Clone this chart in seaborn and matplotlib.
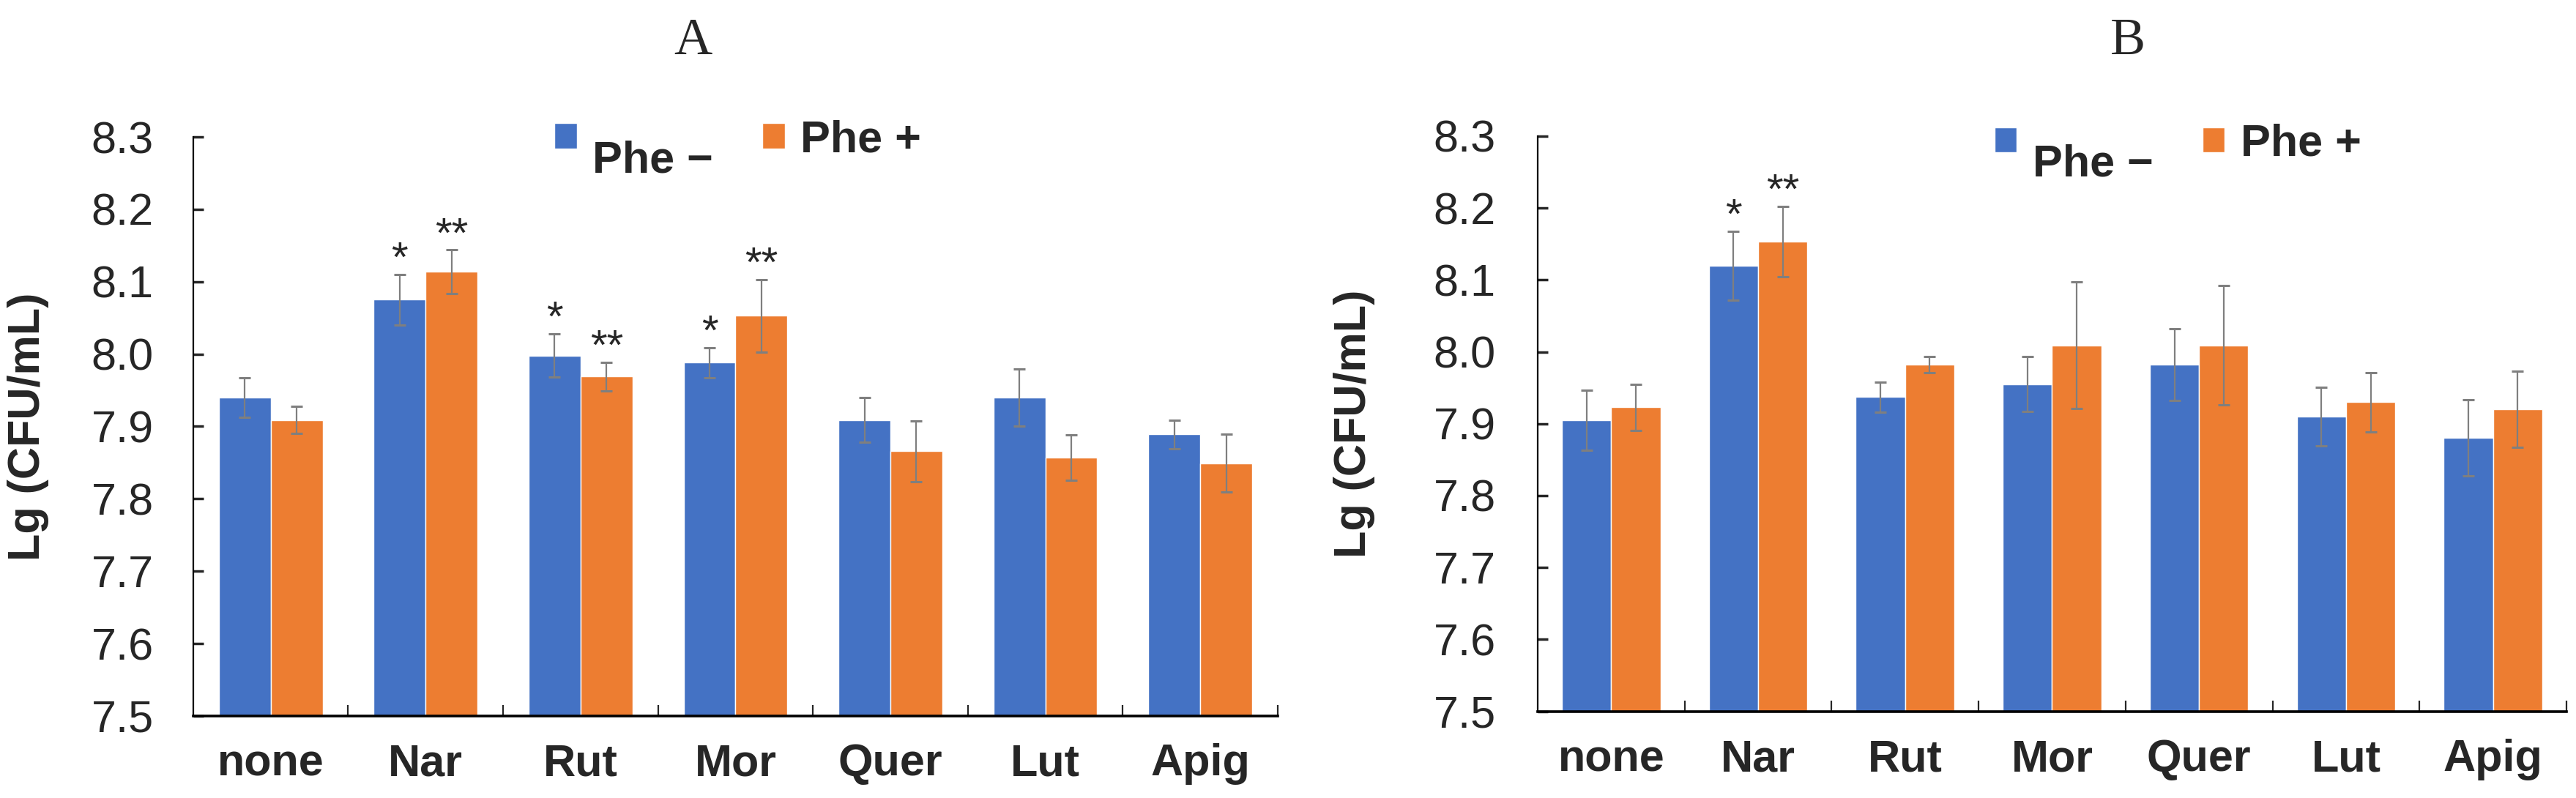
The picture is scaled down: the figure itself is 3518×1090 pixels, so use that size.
"""
Bacterial counts (Lg CFU/mL) with and without Phe, two panels A and B
"""
import pandas as pd
import seaborn as sns
import matplotlib.pyplot as plt
from matplotlib.ticker import FixedLocator, FormatStrFormatter

sns.set_style('white')
plt.rcParams['font.family'] = ['Liberation Sans', 'DejaVu Sans']

# data
compounds = ["none", "Nar", "Rut", "Mor", "Quer", "Lut", "Apig"]
groups = ["Phe \u2212", "Phe +"]

a_minus = [7.940, 8.075, 7.998, 7.988, 7.909, 7.940, 7.889]
a_minus_sd = [0.027, 0.035, 0.030, 0.021, 0.031, 0.039, 0.020]
a_plus = [7.909, 8.114, 7.969, 8.053, 7.866, 7.857, 7.849]
a_plus_sd = [0.019, 0.030, 0.020, 0.050, 0.042, 0.031, 0.040]
a_minus_sig = ["", "*", "*", "*", "", "", ""]
a_plus_sig = ["", "**", "**", "**", "", "", ""]

b_minus = [7.905, 8.120, 7.937, 7.955, 7.982, 7.910, 7.880]
b_minus_sd = [0.042, 0.048, 0.021, 0.038, 0.050, 0.041, 0.053]
b_plus = [7.923, 8.153, 7.982, 8.009, 8.009, 7.930, 7.920]
b_plus_sd = [0.032, 0.049, 0.011, 0.088, 0.083, 0.041, 0.053]
b_minus_sig = ["", "*", "", "", "", "", ""]
b_plus_sig = ["", "**", "", "", "", "", ""]

y_ticks = [7.5, 7.6, 7.7, 7.8, 7.9, 8.0, 8.1, 8.2, 8.3]

BLUE = '#4472C4'
ORANGE = '#ED7D31'
GREY = '#7F7F7F'
FS = 44


def draw_panel(ax, minus, minus_sd, plus, plus_sd, sig_minus, sig_plus,
               legend_anchor, label_x, ypad):
    df = pd.DataFrame({
        'compound': compounds * 2,
        'group': [groups[0]] * len(compounds) + [groups[1]] * len(compounds),
        'value': minus + plus,
    })
    sns.barplot(data=df, x='compound', y='value', hue='group', order=compounds,
                hue_order=groups, palette=[BLUE, ORANGE], width=0.67,
                saturation=1, errorbar=None, ax=ax)

    # error bars and stars on top of each bar
    for cont, sds, sigs in zip(ax.containers, [minus_sd, plus_sd], [sig_minus, sig_plus]):
        xs = [p.get_x() + p.get_width() / 2 for p in cont.patches]
        hs = [p.get_height() for p in cont.patches]
        ax.errorbar(xs, hs, yerr=sds, fmt='none', ecolor=GREY, elinewidth=1.6,
                    capsize=6, capthick=2.2, zorder=3)
        for x, h, sd, s in zip(xs, hs, sds, sigs):
            if s:
                ax.text(x, h + sd + 0.004, s, ha='center', va='baseline', fontsize=FS - 2)

    ax.set_ylim(7.5, 8.3)
    ax.set_xlim(-0.5, len(compounds) - 0.5)
    ax.yaxis.set_major_locator(FixedLocator(y_ticks))
    ax.yaxis.set_major_formatter(FormatStrFormatter('%.1f'))
    ax.xaxis.set_minor_locator(FixedLocator([i + 0.5 for i in range(len(compounds))]))

    ax.tick_params(axis='y', direction='in', length=10, width=2.5, labelsize=FS, pad=ypad, left=True)
    ax.tick_params(axis='x', which='major', length=0, labelsize=FS, pad=27)
    ax.tick_params(axis='x', which='minor', direction='in', length=11, width=1.6, bottom=True)
    for lbl in ax.get_xticklabels():
        lbl.set_fontweight('bold')

    for side in ['top', 'right']:
        ax.spines[side].set_visible(False)
    ax.spines['left'].set_color('black')
    ax.spines['left'].set_linewidth(1.6)
    ax.spines['bottom'].set_color('black')
    ax.spines['bottom'].set_linewidth(2.6)

    ax.set_xlabel('')
    ax.set_ylabel('Lg (CFU/mL)', fontsize=FS, fontweight='bold')
    ax.yaxis.set_label_coords(label_x, 0.5)

    handles, labels = ax.get_legend_handles_labels()
    leg = ax.legend(handles, labels, loc='upper left', bbox_to_anchor=legend_anchor,
                    ncol=2, frameon=False, handlelength=0.5, handleheight=0.5,
                    handletextpad=0.35, columnspacing=1.1, borderpad=0, borderaxespad=0,
                    prop={'size': FS, 'weight': 'bold'})
    # the minus label sits lower than its swatch in the original
    leg.get_texts()[0].set_y(-28)


fig = plt.figure(figsize=(35.18, 10.90), dpi=100)
ax_a = fig.add_axes([0.0750, 0.1028, 0.4210, 0.7256])
ax_b = fig.add_axes([0.5969, 0.1087, 0.3994, 0.7207])

draw_panel(ax_a, a_minus, a_minus_sd, a_plus, a_plus_sd, a_minus_sig, a_plus_sig,
           (0.333, 1.03), -0.133, 39)
draw_panel(ax_b, b_minus, b_minus_sd, b_plus, b_plus_sd, b_minus_sig, b_plus_sig,
           (0.444, 1.022), -0.158, 41)

fig.text(0.269, 0.9486, 'A', ha='center', va='center', fontsize=52, family='Liberation Serif')
fig.text(0.826, 0.9486, 'B', ha='center', va='center', fontsize=52, family='Liberation Serif')

fig.savefig('out.png', dpi=100)
